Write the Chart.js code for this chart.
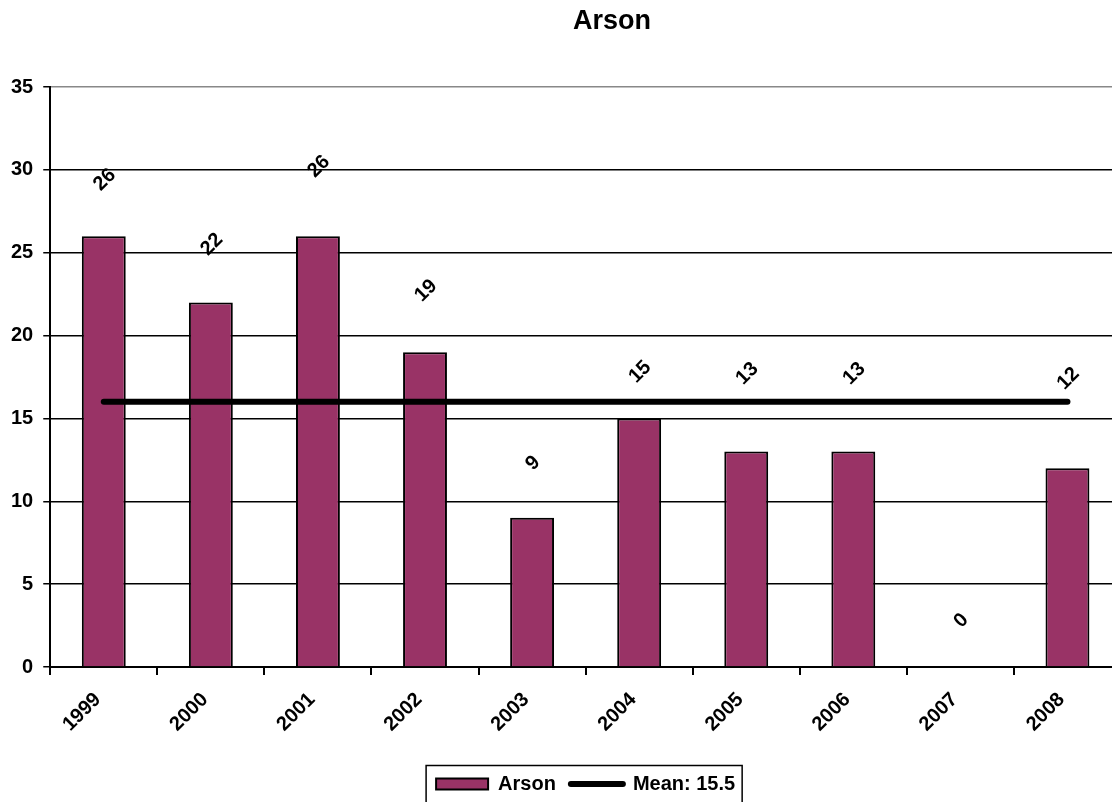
<!DOCTYPE html>
<html>
<head>
<meta charset="utf-8">
<title>Arson</title>
<script src="https://cdn.jsdelivr.net/npm/chart.js@4.4.1/dist/chart.umd.min.js"></script>
<style>
  html, body { margin: 0; padding: 0; background: #fff; overflow: hidden; }
  #wrap { width: 1122px; height: 804px; position: relative; }
</style>
</head>
<body>
<div id="wrap"><canvas id="arson-chart"></canvas></div>
<script>
const chartTitle = "Arson";
const years = ["1999", "2000", "2001", "2002", "2003", "2004", "2005", "2006", "2007", "2008"];
const arsonCounts = [26, 22, 26, 19, 9, 15, 13, 13, 0, 12];
const meanLine = [16, 16, 16, 16, 16, 16, 16, 16, 16, 16];
const meanLabel = "Mean: 15.5";
const yTicks = [0, 5, 10, 15, 20, 25, 30, 35];
const labelHeights = [29.4, 25.5, 30.2, 22.7, 12.3, 17.8, 17.7, 17.7, 2.8, 17.4];

const barColor = "#993366";
const fontFamily = "'Liberation Sans', Arial, sans-serif";

const titlePlugin = {
  id: "chartTitle",
  afterDraw(chart) {
    const { ctx } = chart;
    ctx.save();
    ctx.font = "bold 27px " + fontFamily;
    ctx.fillStyle = "#000";
    ctx.textAlign = "center";
    ctx.textBaseline = "alphabetic";
    ctx.fillText(chartTitle, 612, 29);
    ctx.restore();
  },
};

// rotated value labels above each bar
const valueLabels = {
  id: "valueLabels",
  afterDatasetsDraw(chart) {
    const { ctx } = chart;
    const yScale = chart.scales.y;
    const meta = chart.getDatasetMeta(0);
    ctx.save();
    ctx.font = "bold 20px " + fontFamily;
    ctx.fillStyle = "#000";
    ctx.textAlign = "center";
    ctx.textBaseline = "middle";
    meta.data.forEach((bar, i) => {
      ctx.save();
      ctx.translate(bar.x + 1, yScale.getPixelForValue(labelHeights[i]));
      ctx.rotate(-Math.PI / 4);
      ctx.fillText(String(arsonCounts[i]), 0, 0);
      ctx.restore();
    });
    ctx.restore();
  },
};

// black frame round the legend
const legendFrame = {
  id: "legendFrame",
  afterDraw(chart) {
    const boxes = chart.legend && chart.legend.legendHitBoxes;
    if (!boxes || !boxes.length) return;
    const { ctx } = chart;
    const left = Math.min(...boxes.map((b) => b.left)) - 10;
    const right = Math.max(...boxes.map((b) => b.left + b.width)) + 7;
    const mid = boxes[0].top + boxes[0].height / 2;
    ctx.save();
    ctx.strokeStyle = "#000";
    ctx.lineWidth = 1.5;
    ctx.strokeRect(left, mid - 18.5, right - left, 45);
    ctx.restore();
  },
};

new Chart(document.getElementById("arson-chart"), {
  type: "bar",
  data: {
    labels: years,
    datasets: [
      {
        label: chartTitle,
        data: arsonCounts,
        backgroundColor: barColor,
        borderColor: "#000",
        borderWidth: 2,
        barPercentage: 0.41,
        categoryPercentage: 1,
        order: 1,
      },
      {
        type: "line",
        label: meanLabel,
        data: meanLine,
        borderColor: "#000",
        borderWidth: 6,
        borderCapStyle: "round",
        pointRadius: 0,
        fill: false,
        order: 0,
      },
    ],
  },
  options: {
    responsive: true,
    maintainAspectRatio: false,
    animation: false,
    layout: { padding: { top: 87, left: 1, right: 1, bottom: 0 } },
    plugins: {
      title: { display: false },
      tooltip: { enabled: false },
      legend: {
        position: "bottom",
        fullSize: false,
        labels: {
          usePointStyle: true,
          pointStyleWidth: 52,
          boxHeight: 11,
          padding: 15,
          color: "#000",
          font: { family: fontFamily, size: 20, weight: "bold" },
          generateLabels: () => [
            { text: chartTitle, fillStyle: barColor, strokeStyle: "#000", lineWidth: 2, pointStyle: "rect", datasetIndex: 0 },
            { text: meanLabel, fillStyle: "#000", strokeStyle: "#000", lineWidth: 6, lineCap: "round", pointStyle: "line", datasetIndex: 1 },
          ],
        },
      },
    },
    scales: {
      x: {
        grid: {
          display: true,
          drawOnChartArea: false,
          drawTicks: true,
          tickLength: 8,
          color: "#000",
          lineWidth: 2,
        },
        border: { color: "#000", width: 2 },
        ticks: {
          color: "#000",
          maxRotation: 45,
          minRotation: 45,
          padding: 13,
          labelOffset: -6,
          font: { family: fontFamily, size: 20, weight: "bold" },
        },
        afterFit: (scale) => {
          scale.height = 92;
        },
      },
      y: {
        min: 0,
        max: 35,
        afterBuildTicks: (scale) => {
          scale.ticks = yTicks.map((v) => ({ value: v }));
        },
        grid: {
          color: (c) => (c.tick && c.tick.value === 35 ? "#888" : "#000"),
          tickColor: "#000",
          lineWidth: 1.5,
          tickLength: 7,
        },
        border: { color: "#000", width: 2 },
        ticks: {
          color: "#000",
          padding: 10,
          font: { family: fontFamily, size: 20, weight: "bold" },
        },
      },
    },
  },
  plugins: [titlePlugin, valueLabels, legendFrame],
});
</script>
</body>
</html>
